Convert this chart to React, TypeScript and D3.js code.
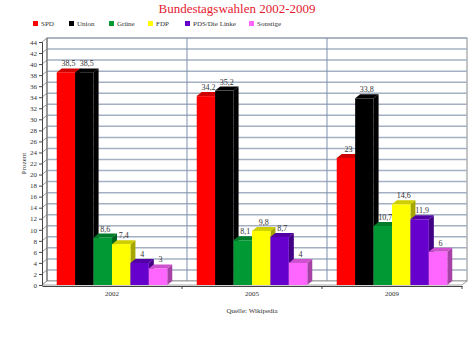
import * as d3 from "d3";
import { useEffect, useRef } from "react";

const years = ["2002", "2005", "2009"];
const parties = ["SPD", "Union", "Grüne", "FDP", "PDS/Die Linke", "Sonstige"];
const colors = ["#ff0000", "#000000", "#009933", "#ffff00", "#6600cc", "#ff66ff"];
// one array per party, in order of years
const spd = [38.5, 34.2, 23];
const union = [38.5, 35.2, 33.8];
const gruene = [8.6, 8.1, 10.7];
const fdp = [7.4, 9.8, 14.6];
const linke = [4, 8.7, 11.9];
const sonstige = [3, 4, 6];
const yTicks = d3.range(0, 45, 2);

const series = [spd, union, gruene, fdp, linke, sonstige];

const App = () => {
  const ref = useRef<SVGSVGElement>(null);

  useEffect(() => {
    const width = 474,
      height = 348;
    const margin = { top: 42, right: 7, bottom: 63, left: 42 };
    const dx = 5,
      dy = -4; // depth of the 3d look

    const svg = d3.select(ref.current);
    svg.selectAll("*").remove();
    svg.attr("width", width).attr("height", height).style("font-family", "'Liberation Serif', serif");

    const x0 = d3
      .scaleBand()
      .domain(years)
      .range([margin.left, width - margin.right - dx]);
    const x1 = d3
      .scaleBand()
      .domain(parties)
      .range([0, x0.bandwidth()])
      .paddingInner(0)
      .paddingOuter(0.8);
    const y = d3
      .scaleLinear()
      .domain([0, 44])
      .range([height - margin.bottom, margin.top]);

    const left = x0.range()[0],
      right = x0.range()[1];
    const bottom = y(0);

    // back wall
    svg
      .append("rect")
      .attr("x", left + dx)
      .attr("y", y(44) + dy)
      .attr("width", right - left)
      .attr("height", bottom - y(44))
      .attr("fill", "#fff")
      .attr("stroke", "#8a8a8a")
      .attr("stroke-width", 1);

    // grid lines on back wall + left wall
    const grid = svg.append("g");
    grid
      .selectAll("line.h")
      .data(yTicks.filter((d) => d > 0))
      .join("line")
      .attr("x1", left + dx)
      .attr("x2", right + dx)
      .attr("y1", (d) => y(d) + dy)
      .attr("y2", (d) => y(d) + dy)
      .attr("stroke", "#a4b0c2")
      .attr("stroke-width", 1.5);
    grid
      .selectAll("line.d")
      .data(yTicks)
      .join("line")
      .attr("x1", left)
      .attr("x2", left + dx)
      .attr("y1", (d) => y(d))
      .attr("y2", (d) => y(d) + dy)
      .attr("stroke", "#808080")
      .attr("stroke-width", 0.8);
    grid
      .selectAll("line.v")
      .data(years.slice(1))
      .join("line")
      .attr("x1", (d) => x0(d)! + dx)
      .attr("x2", (d) => x0(d)! + dx)
      .attr("y1", y(44) + dy)
      .attr("y2", bottom + dy)
      .attr("stroke", "#7f8fae")
      .attr("stroke-width", 1);
    // floor
    svg
      .append("path")
      .attr(
        "d",
        `M${left},${bottom}L${left + dx},${bottom + dy}L${right + dx},${bottom + dy}L${right},${bottom}Z`
      )
      .attr("fill", "#fff")
      .attr("stroke", "#8a8a8a")
      .attr("stroke-width", 0.8);
    svg
      .append("line")
      .attr("x1", left + dx)
      .attr("x2", left + dx)
      .attr("y1", y(44) + dy)
      .attr("y2", bottom + dy)
      .attr("stroke", "#6a6a6a");

    // y axis
    const yAxis = svg
      .append("g")
      .attr("transform", `translate(${left},0)`)
      .call(d3.axisLeft(y).tickValues(yTicks).tickSize(3).tickPadding(2));
    yAxis.select(".domain").attr("stroke", "#444");
    yAxis.selectAll(".tick line").attr("stroke", "#444");
    yAxis
      .selectAll("text")
      .attr("fill", "#333")
      .style("font-size", "7px")
      .style("font-family", "'Liberation Serif', serif");

    // x axis
    const xAxis = svg
      .append("g")
      .attr("transform", `translate(0,${bottom + 1})`)
      .call(d3.axisBottom(x0).tickSize(0).tickPadding(5));
    xAxis.select(".domain").attr("stroke", "#444");
    xAxis
      .selectAll("text")
      .attr("fill", "#333")
      .style("font-size", "7px")
      .style("font-family", "'Liberation Serif', serif");
    svg
      .append("g")
      .selectAll("line")
      .data(years.slice(1).concat(["end"]))
      .join("line")
      .attr("x1", (d) => (d === "end" ? right : x0(d)!))
      .attr("x2", (d) => (d === "end" ? right : x0(d)!))
      .attr("y1", bottom + 1)
      .attr("y2", bottom + 4)
      .attr("stroke", "#444");

    // bars, drawn group by group so later bars overlap earlier labels
    const bw = x1.bandwidth();
    const fmt = (v: number) => String(v).replace(".", ",");
    years.forEach((yr, i) => {
      const g = svg.append("g").attr("transform", `translate(${x0(yr)},0)`);
      parties.forEach((p, j) => {
        const v = series[j][i];
        const bx = x1(p)!;
        const top = y(v);
        const c = d3.color(colors[j])!;
        const side = colors[j] === "#000000" ? "#000" : c.darker(1.2).toString();
        const lid = colors[j] === "#000000" ? "#000" : c.darker(0.6).toString();
        g.append("path")
          .attr("d", `M${bx + bw},${top}L${bx + bw + dx},${top + dy}L${bx + bw + dx},${bottom + dy}L${bx + bw},${bottom}Z`)
          .attr("fill", side);
        g.append("path")
          .attr("d", `M${bx},${top}L${bx + dx},${top + dy}L${bx + bw + dx},${top + dy}L${bx + bw},${top}Z`)
          .attr("fill", lid);
        g.append("rect")
          .attr("x", bx)
          .attr("y", top)
          .attr("width", bw)
          .attr("height", bottom - top)
          .attr("fill", colors[j]);
        g.append("text")
          .attr("x", bx + bw / 2 + dx / 2)
          .attr("y", top + dy - 2)
          .attr("text-anchor", "middle")
          .attr("fill", "#333")
          .style("font-size", "8px")
          .text(fmt(v));
      });
    });

    // title
    svg
      .append("text")
      .attr("x", width / 2)
      .attr("y", 13)
      .attr("text-anchor", "middle")
      .attr("fill", "#e4192f")
      .style("font-size", "13px")
      .text("Bundestagswahlen 2002-2009");

    // legend
    const legendX = [33, 69, 109, 148, 185, 249];
    const legend = svg
      .append("g")
      .selectAll("g")
      .data(parties)
      .join("g")
      .attr("transform", (d, i) => `translate(${legendX[i]},24)`);
    legend
      .append("rect")
      .attr("x", 0)
      .attr("y", -3)
      .attr("width", 5)
      .attr("height", 5)
      .attr("fill", (d, i) => colors[i]);
    legend
      .append("text")
      .attr("x", 8)
      .attr("y", 2)
      .attr("fill", "#333")
      .style("font-size", "7px")
      .text((d) => d);

    // axis titles
    svg
      .append("text")
      .attr("transform", `translate(26,${(y(0) + y(44)) / 2}) rotate(-90)`)
      .attr("text-anchor", "middle")
      .attr("fill", "#333")
      .style("font-size", "7px")
      .text("Prozent");
    svg
      .append("text")
      .attr("x", (left + right) / 2)
      .attr("y", 313)
      .attr("text-anchor", "middle")
      .attr("fill", "#333")
      .style("font-size", "7px")
      .text("Quelle: Wikipedia");
  }, []);

  return (
    <svg
      ref={ref}
      width={474}
      height={348}
      style={{ position: "absolute", left: 0, top: 0, background: "#fff" }}
    />
  );
};

export default App;
